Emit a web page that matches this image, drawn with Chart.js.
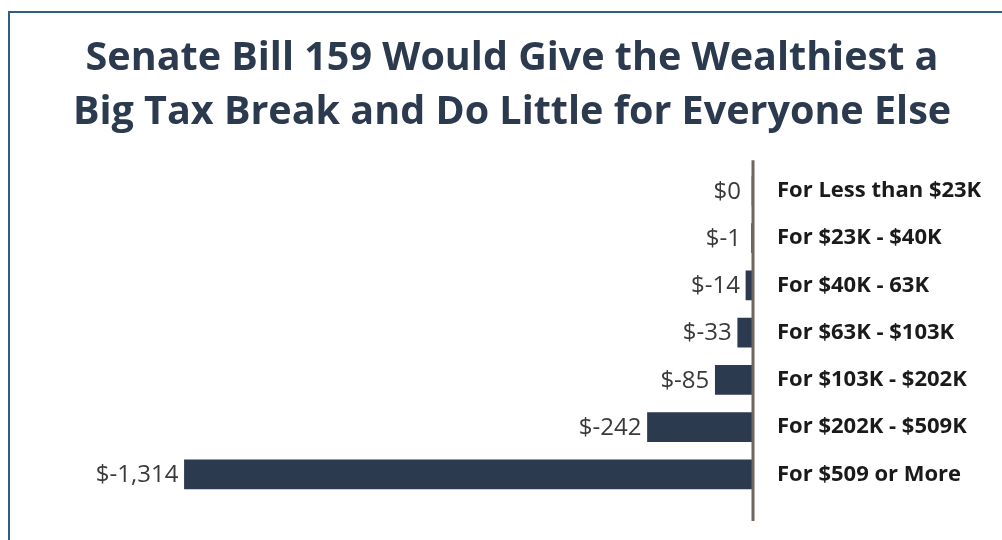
<!DOCTYPE html>
<html>
<head>
<meta charset="utf-8">
<script src="https://cdn.jsdelivr.net/npm/chart.js@4"></script>
<style>
  html, body { margin: 0; padding: 0; background: #fff; }
  .wrap { position: relative; width: 1002px; height: 540px; overflow: hidden; }
  .frame {
    position: absolute; left: 8px; top: 11px; width: 1100px; height: 600px;
    border-left: 2px solid #2f5d8c; border-top: 2px solid #2f5d8c;
    pointer-events: none;
  }
  canvas { position: absolute; left: 0; top: 0; }
</style>
</head>
<body>
<div class="wrap">
  <canvas id="chart" width="1002" height="540"></canvas>
  <div class="frame"></div>
</div>
<script>
// dados do gráfico
const titleLines = ['Senate Bill 159 Would Give the Wealthiest a', 'Big Tax Break and Do Little for Everyone Else'];
const brackets = ['For Less than $23K', 'For $23K - $40K', 'For $40K - 63K', 'For $63K - $103K',
  'For $103K - $202K', 'For $202K - $509K', 'For $509 or More'];
const taxChange = [0, -1, -14, -33, -85, -242, -1314];

const BAR = '#2c3a50';

function fmtMoney(v) {
  return '$' + v.toLocaleString('en-US');
}

// rótulos de valor à esquerda das barras + linha do eixo em zero
const valueLabels = {
  id: 'valueLabels',
  afterDatasetsDraw(chart) {
    const { ctx, scales: { x } } = chart;
    const zeroX = x.getPixelForValue(0);
    const meta = chart.getDatasetMeta(0);
    ctx.save();
    ctx.font = '24px "Open Sans"';
    ctx.fillStyle = '#3a3a3a';
    ctx.textAlign = 'right';
    ctx.textBaseline = 'middle';
    meta.data.forEach((bar, i) => {
      const left = Math.min(bar.x, zeroX - 5);
      ctx.fillText(fmtMoney(taxChange[i]), left - 6, bar.y + 1);
    });
    ctx.strokeStyle = '#6e6661';
    ctx.lineWidth = 3;
    ctx.beginPath();
    ctx.moveTo(zeroX + 1, chart.chartArea.top - 7);
    ctx.lineTo(zeroX + 1, chart.chartArea.bottom + 23);
    ctx.stroke();
    ctx.restore();
  }
};

new Chart(document.getElementById('chart'), {
  type: 'bar',
  data: {
    labels: brackets,
    datasets: [{
      data: taxChange,
      backgroundColor: BAR,
      borderWidth: 0,
      barThickness: 29
    }]
  },
  options: {
    indexAxis: 'y',
    responsive: false,
    animation: false,
    layout: { padding: { left: 22, right: 0, top: 0, bottom: 42 } },
    scales: {
      x: {
        display: false,
        min: -1690,
        max: 0
      },
      y: {
        position: 'right',
        grid: { display: false },
        border: { display: false },
        ticks: {
          padding: 17,
          color: '#1a1a1a',
          font: { family: 'Open Sans', weight: 'bold', size: 22 }
        },
        afterFit(scale) { scale.width = 250; }
      }
    },
    plugins: {
      legend: { display: false },
      tooltip: { enabled: false },
      title: {
        display: true,
        text: titleLines,
        color: '#2c3a4f',
        font: { family: 'Open Sans', weight: 'bold', size: 39.5, lineHeight: 1.37 },
        padding: { top: 32, bottom: 27 }
      }
    }
  },
  plugins: [valueLabels]
});
</script>
</body>
</html>
